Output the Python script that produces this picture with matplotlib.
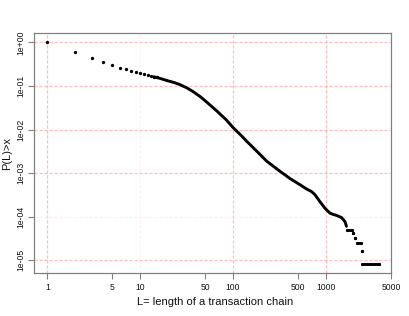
import matplotlib
matplotlib.use("Agg")
import matplotlib.pyplot as plt
import numpy as np

plt.rcParams['font.family'] = ['Liberation Sans', 'DejaVu Sans']

# Individual points (small chain lengths)
dot_L = [1, 2, 3, 4, 5, 6, 7, 8, 9, 10, 11, 12, 13, 14, 15]
dot_P = [1.0, 0.62, 0.452, 0.36, 0.302, 0.266, 0.245, 0.224, 0.209, 0.194,
         0.184, 0.176, 0.169, 0.163, 0.157]

# Dense part of the curve (points merge into a thick line)
curve_L = [14, 16, 20, 23, 27, 32, 37, 44, 50, 57, 67, 85, 100, 120, 140, 152,
           195, 230, 270, 320, 410, 525, 620, 700, 760, 800, 862, 977, 1105,
           1200, 1296, 1473, 1600, 1663]
curve_P = [0.163, 0.152, 0.131, 0.121, 0.107, 0.090, 0.0748, 0.0576, 0.046,
           0.036, 0.0266, 0.0165, 0.0111, 0.0076, 0.0054, 0.00455, 0.00268,
           0.00188, 0.00145, 0.0011, 7.5e-4, 5.4e-4, 4.3e-4, 3.75e-4, 3.2e-4,
           2.75e-4, 2.2e-4, 1.55e-4, 1.2e-4, 1.12e-4, 1.07e-4, 9.5e-5, 7.7e-5,
           6.0e-5]

# Tail: flat runs (start, end, level)
tail_start = [1700, 1960, 2050, 2170, 2420, 2440]
tail_end = [1900, 1960, 2050, 2400, 2420, 3740]
tail_P = [4.9e-5, 4.1e-5, 3.25e-5, 2.45e-5, 1.63e-5, 8.1e-6]

x_ticks = [1, 5, 10, 50, 100, 500, 1000, 5000]
x_ticklabels = ["1", "5", "10", "50", "100", "500", "1000", "5000"]
y_ticks = [1, 1e-1, 1e-2, 1e-3, 1e-4, 1e-5]
y_ticklabels = ["1e+00", "1e-01", "1e-02", "1e-03", "1e-04", "1e-05"]
grid_v = [1, 10, 100, 1000]
grid_h = [1, 1e-1, 1e-2, 1e-3, 1e-4, 1e-5]

fig = plt.figure(figsize=(4.09, 3.16), dpi=100)
ax = fig.add_axes([34/409, 1-273/316, (391-34)/409, (273-33)/316])
ax.set_xscale('log')
ax.set_yscale('log')
ax.set_xlim(10**-0.143, 10**3.70)
ax.set_ylim(10**-5.295, 10**0.218)

faint = {10, 1e-4}
for v in grid_v:
    ax.axvline(v, color='#ffbcbc' if v not in faint else '#fff0f0', lw=0.9,
               ls=(0, (2.5, 1.5)), zorder=0)
for h in grid_h:
    ax.axhline(h, color='#ffbcbc' if h not in faint else '#fff0f0', lw=0.9,
               ls=(0, (2.5, 1.5)), zorder=0)

ax.plot(curve_L, curve_P, color='black', lw=2.1, solid_capstyle='round',
        solid_joinstyle='round', zorder=3)
ax.plot(dot_L, dot_P, 'o', color='black', ms=2.4, mew=0, zorder=3)
for s, e, p in zip(tail_start, tail_end, tail_P):
    ax.plot([s, e], [p, p], '-o', color='black', lw=2.1, ms=2.3, mew=0,
            solid_capstyle='round', zorder=3)

ax.set_xticks(x_ticks)
ax.set_xticklabels(x_ticklabels)
ax.set_yticks(y_ticks)
ax.set_yticklabels(y_ticklabels, rotation=90, va='center')
ax.minorticks_off()
ax.tick_params(axis='both', length=4, width=0.8, color='#808080',
               labelsize=6.2, labelcolor='#111111')
ax.tick_params(axis='x', pad=3)
ax.tick_params(axis='y', pad=2.5)
for sp in ax.spines.values():
    sp.set_color('#808080')
    sp.set_linewidth(0.9)

fig.text(137/409, 1-302/316, "L= length of a transaction chain", fontsize=8,
         ha='left', va='center', color='#111111')
fig.text(7/409, 1-153/316, "P(L)>x", fontsize=8, rotation=90,
         ha='center', va='center', color='#111111')

fig.savefig("out.png", dpi=100)
